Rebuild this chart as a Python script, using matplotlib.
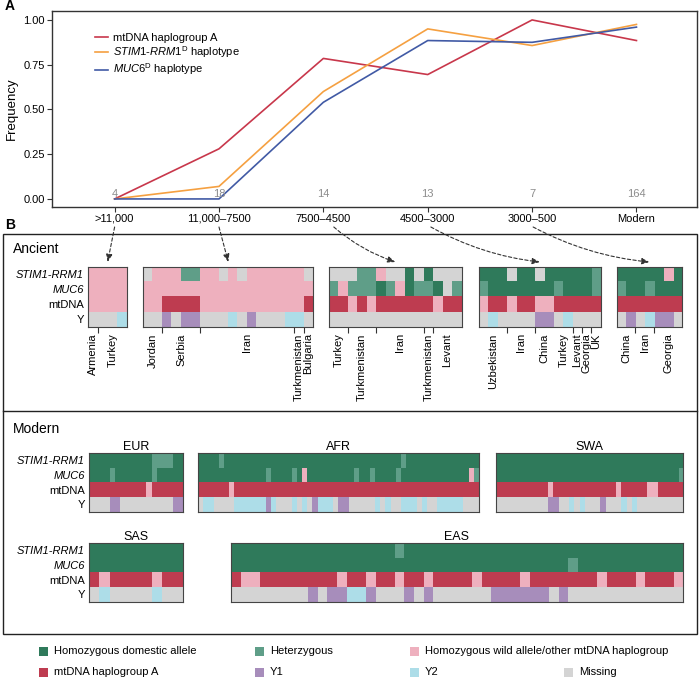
import numpy as np
import matplotlib
matplotlib.use("Agg")
import matplotlib.pyplot as plt
import matplotlib.transforms as mtransforms
from matplotlib.colors import ListedColormap
from matplotlib.patches import Rectangle

plt.rcParams['font.family'] = ['Liberation Sans', 'DejaVu Sans']
plt.rcParams['mathtext.fontset'] = 'custom'
plt.rcParams['mathtext.rm'] = 'Liberation Sans'
plt.rcParams['mathtext.it'] = 'Liberation Sans:italic'

# ---- panel A data ----
periods = ['>11,000', '11,000\u20137500', '7500\u20134500', '4500\u20133000', '3000\u2013500', 'Modern']
sample_counts = [4, 18, 14, 13, 7, 164]
freq_mtdna_a = [0.0, 0.28, 0.785, 0.695, 1.0, 0.885]
freq_stim1 = [0.0, 0.07, 0.60, 0.95, 0.857, 0.975]
freq_muc6 = [0.0, 0.0, 0.54, 0.885, 0.875, 0.96]

# ---- panel B data ----
# run-length rows: STIM1-RRM1, MUC6, mtDNA, Y
# D homozygous domestic, H heterozygous, W wild/other haplogroup,
# A haplogroup A, P Y1, B Y2, N missing
anc_11000 = ["4W", "4W", "4W", "3N B"]
anc_7500 = ["N 3W 2H 2W N W N 6W N", "18W", "2W 4A 11W A", "2N P N 2P 3N B N P 3N 2B N"]
anc_4500 = ["3N 2H W 2N D N D 3N", "H W 3H D H W D 2H D N H", "2A W A W 6A W 2A", "14N"]
anc_3000 = ["3D N 2D N 5D H", "H 7D H 3D H", "W 2A W 2A 2W 5A", "N B 4N 2P N B 3N"]
anc_500 = ["5D W D", "H 2D H 3D", "7A", "N P N B 2P N"]

site_ticks = [[1], [2, 6, 16, 17], [2, 5, 10, 11], [3, 6, 10, 11, 12], [2, 4]]
site_names = [['Armenia', 'Turkey'],
              ['Jordan', 'Serbia', 'Iran', 'Turkmenistan', 'Bulgaria'],
              ['Turkey', 'Turkmenistan', 'Iran', 'Turkmenistan', 'Levant'],
              ['Uzbekistan', 'Iran', 'China', 'Turkey', 'Levant', 'Georgia', 'UK'],
              ['China', 'Iran', 'Georgia']]
site_centers = [[0.5, 2.5],
                [1.0, 4.0, 11.0, 16.5, 17.5],
                [1.0, 3.5, 7.5, 10.5, 12.5],
                [1.5, 4.5, 7.0, 9.0, 10.5, 11.5, 12.5],
                [1.0, 3.0, 5.5]]

mod_eur = ["12D 4H 2D", "4D H 7D H 5D", "11A W 6A", "4N 2P 10N 2P"]
mod_afr = ["4D H 34D H 14D",
           "13D H 4D H D W 9D H 2D H 4D H 13D W H",
           "6A W 47A",
           "N 2B 4N 6B P B 3N B N B N P 3B N 2P 5N B N B 2N 3B N B 2N 5B 3N"]
mod_swa = ["36D", "35D H", "10A W 12A W 5A 2W 5A", "10N 2P 2N B N B 3N P 3N B N B 9N"]
mod_sas = ["9D", "9D", "A W 4A W 2A", "N B 4N B 2N"]
mod_eas = ["17D H 29D", "35D H 11D",
           "A 2W 8A W 2A W 2A W 2A W 4A W 4A W 7A W 3A W 3A W",
           "8N P N 2P 2B P 3N P N P 6N 6P N P 12N"]

row_names = ['STIM1-RRM1', 'MUC6', 'mtDNA', 'Y']
legend_names = ['Homozygous domestic allele', 'Heterzygous',
                'Homozygous wild allele/other mtDNA haplogroup',
                'mtDNA haplogroup A', 'Y1', 'Y2', 'Missing']

CODES = {'D': 0, 'H': 1, 'W': 2, 'A': 3, 'P': 4, 'B': 5, 'N': 6}
cell_colors = ['#2F7A5B', '#5F9E88', '#EEB0BE', '#BE3C50', '#A78DBB', '#ADDDE8', '#D4D4D4']
cmap = ListedColormap(cell_colors)
line_red, line_orange, line_blue = '#C8374B', '#F5A041', '#415AA5'

W, H = 700, 678
fig = plt.figure(figsize=(W / 100, H / 100), dpi=100)


def px_axes(x0, y0, x1, y1):
    return fig.add_axes([x0 / W, 1 - y1 / H, (x1 - x0) / W, (y1 - y0) / H])


def expand(rle):
    out = []
    for tok in rle.split():
        n = int(tok[:-1]) if len(tok) > 1 else 1
        out += [CODES[tok[-1]]] * n
    return out


# overlay in pixel units (y down) for frames, captions and arrows
ov = fig.add_axes([0, 0, 1, 1])
ov.set_xlim(0, W)
ov.set_ylim(H, 0)
ov.axis('off')

# ---- panel A ----
axA = px_axes(52, 11, 697, 207)
x = np.arange(len(periods))
axA.plot(x, freq_mtdna_a, color=line_red, lw=1.2, label='mtDNA haplogroup A')
axA.plot(x, freq_stim1, color=line_orange, lw=1.2,
         label=r'$\mathit{STIM1}$-$\mathit{RRM1}^{\mathrm{D}}$ haplotype')
axA.plot(x, freq_muc6, color=line_blue, lw=1.2, label=r'$\mathit{MUC6}^{\mathrm{D}}$ haplotype')
for xi, n in zip(x, sample_counts):
    axA.text(xi, 0.026, str(n), color='#8C8C8C', ha='center', va='center', fontsize=8)
axA.set_xlim(-0.6, 5.58)
axA.set_ylim(-0.045, 1.05)
axA.set_xticks(x, periods, fontsize=8)
yt = [0, 0.25, 0.5, 0.75, 1.0]
axA.set_yticks(yt, ['%.2f' % v for v in yt], fontsize=8)
axA.set_ylabel('Frequency', fontsize=9.5, labelpad=4)
axA.tick_params(length=3.5, width=0.8, color='#333333', pad=1.5)
for s in axA.spines.values():
    s.set_color('#333333')
    s.set_linewidth(1.0)
axA.legend(loc='upper left', bbox_to_anchor=(0.066, 0.89), frameon=False, fontsize=8,
           handlelength=1.2, handletextpad=0.45, labelspacing=0.15, borderpad=0, borderaxespad=0)


# ---- panel B ----
def heat_block(rows, x0, y0, x1, y1, row_labels=False, ticks=None, names=None, centers=None, title=None):
    grid = np.array([expand(r) for r in rows])
    n = grid.shape[1]
    ax = px_axes(x0, y0, x1, y1)
    ax.imshow(grid, cmap=cmap, vmin=-0.5, vmax=6.5, aspect='auto',
              interpolation='nearest', extent=(0, n, 4, 0))
    ax.set_xlim(0, n)
    ax.set_ylim(4, 0)
    for s in ax.spines.values():
        s.set_color('#444444')
        s.set_linewidth(0.8)
    if row_labels:
        ax.set_yticks([0.5, 1.5, 2.5, 3.5], row_names, fontsize=8)
        for lab in ax.get_yticklabels()[:2]:
            lab.set_fontstyle('italic')
        ax.tick_params(axis='y', length=0, pad=3)
    else:
        ax.set_yticks([])
    if ticks is not None:
        ax.set_xticks(ticks, [''] * len(ticks))
        ax.tick_params(axis='x', which='major', length=4, width=0.8, color='#333333')
        ax.set_xticks(centers, names, minor=True, rotation=90, fontsize=8)
        ax.tick_params(axis='x', which='minor', length=0, pad=4.5)
    else:
        ax.set_xticks([])
    if title:
        ax.set_title(title, fontsize=9, pad=2)
    return ax


anc_rows = [anc_11000, anc_7500, anc_4500, anc_3000, anc_500]
anc_x = [(88.3, 127), (143.3, 313.3), (329, 461.7), (479, 600.7), (616.7, 682.3)]
for i, (rows, (x0, x1)) in enumerate(zip(anc_rows, anc_x)):
    heat_block(rows, x0, 266.5, x1, 327, row_labels=(i == 0),
               ticks=site_ticks[i], names=site_names[i], centers=site_centers[i])

heat_block(mod_eur, 89.3, 452.7, 183, 511.7, row_labels=True, title='EUR')
heat_block(mod_afr, 198.3, 452.7, 479.3, 511.7, title='AFR')
heat_block(mod_swa, 496, 452.7, 683.3, 511.7, title='SWA')
heat_block(mod_sas, 89.3, 542.7, 183, 601.7, row_labels=True, title='SAS')
heat_block(mod_eas, 230.7, 542.7, 682.7, 601.7, title='EAS')

# dashed arrows from period ticks to ancient blocks
blend = mtransforms.blended_transform_factory(axA.transData, ov.transData)
arrow_starts = [0.0, 0.0, 0.1, 0.03, 0.01]
arrow_rad = [0.0, 0.0, 0.1, 0.1, 0.1]
for i, ((x0, x1), dx, rad) in enumerate(zip(anc_x, arrow_starts, arrow_rad)):
    ov.annotate('', xy=((x0 + x1) / 2, 262), xycoords='data',
                xytext=(i + dx, 227), textcoords=blend,
                arrowprops=dict(arrowstyle='-|>,head_length=0.45,head_width=0.18',
                                mutation_scale=10, lw=0.8, color='#333333',
                                linestyle=(0, (3, 2)), shrinkA=0, shrinkB=0,
                                connectionstyle='arc3,rad=%s' % rad))

ov.add_patch(Rectangle((3, 234), 694, 400, fill=False, lw=1.0, ec='#222222'))
ov.plot([3, 697], [411, 411], color='#222222', lw=1.0)

ov.text(5, 6, 'A', fontsize=10, fontweight='bold', va='center', ha='left')
ov.text(5, 225, 'B', fontsize=10, fontweight='bold', va='center', ha='left')
ov.text(13, 249, 'Ancient', fontsize=10, va='center', ha='left')
ov.text(13, 429, 'Modern', fontsize=10, va='center', ha='left')

# legend of cell colours
legend_codes = ['D', 'H', 'W', 'A', 'P', 'B', 'N']
legend_pos = [(39, 651), (255, 651), (410, 651), (39, 672), (255, 672), (410, 672), (564, 672)]
for name, code, (lx, ly) in zip(legend_names, legend_codes, legend_pos):
    ov.add_patch(Rectangle((lx, ly - 4.5), 9, 9, color=cell_colors[CODES[code]], lw=0))
    ov.text(lx + 15, ly, name, fontsize=8, va='center', ha='left')

fig.savefig('out.png', dpi=100)
